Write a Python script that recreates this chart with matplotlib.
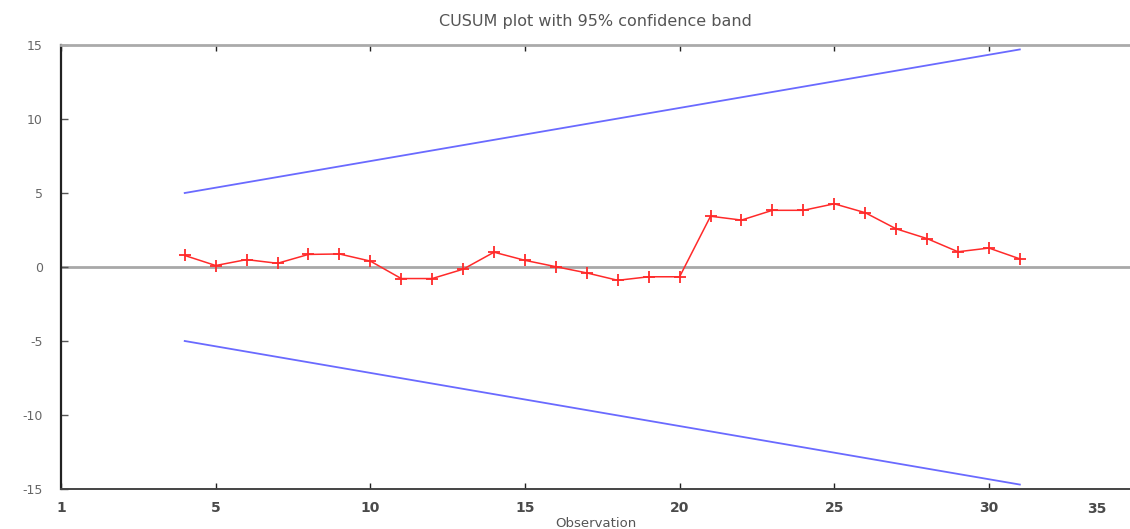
import matplotlib
matplotlib.use("Agg")
import matplotlib.pyplot as plt

plt.rcParams["axes.unicode_minus"] = False

# CUSUM values by observation
obs = list(range(4, 32))
cusum = [0.78, 0.10, 0.50, 0.25, 0.85, 0.88, 0.40, -0.78, -0.78, -0.15,
         1.00, 0.45, 0.02, -0.40, -0.90, -0.66, -0.66, 3.43, 3.17, 3.83,
         3.83, 4.27, 3.67, 2.58, 1.92, 1.03, 1.28, 0.55]

# 95% band end points
band_x = [4, 31]
band_upper = [5.0, 14.7]
band_lower = [-5.0, -14.7]

xticks = [0, 5, 10, 15, 20, 25, 30]
xticklabels = ["1", "5", "10", "15", "20", "25", "30"]
yticks = [-15, -10, -5, 0, 5, 10, 15]

W, H = 1130, 529
fig = plt.figure(figsize=(W / 100, H / 100), dpi=100)
# left edge at 61px, top at 45px, bottom at 489px, runs off the right side
ax = fig.add_axes([61 / W, 1 - 489 / H, (1130 - 61) / W, (489 - 45) / H])

ax.axhline(0, color="#a8a8a8", lw=2.0, zorder=1)
ax.plot(band_x, band_upper, color="#6a6aff", lw=1.3, zorder=2)
ax.plot(band_x, band_lower, color="#6a6aff", lw=1.3, zorder=2)
ax.plot(obs, cusum, color="#ff2a2a", lw=1.1, marker="+", ms=9, mew=1.3,
        zorder=3)

ax.set_xlim(0, (1130 - 61) / 30.93)
ax.set_ylim(-15, 15)

ax.set_xticks(xticks)
ax.set_xticklabels(xticklabels)
ax.set_yticks(yticks)
ax.tick_params(axis="y", direction="in", length=5, width=1, color="#555555",
               labelsize=9, labelcolor="#666666", pad=13)
ax.tick_params(axis="x", direction="in", length=4, width=1, color="#222222",
               labelsize=10, labelcolor="#4a4a4a", pad=9, top=True)
for lab in ax.get_xticklabels():
    lab.set_fontweight("bold")

# label for 35 sits just beyond the visible axis
ax.annotate("35", xy=(1, 0), xycoords="axes fraction", xytext=(-33, -13),
            textcoords="offset pixels", ha="center", va="top", fontsize=10,
            fontweight="bold", color="#4a4a4a")

ax.spines["left"].set_color("#222222")
ax.spines["left"].set_linewidth(1.6)
ax.spines["bottom"].set_color("#444444")
ax.spines["bottom"].set_linewidth(1.4)
ax.spines["top"].set_color("#aaaaaa")
ax.spines["top"].set_linewidth(2.0)
ax.spines["right"].set_visible(False)

ax.set_title("CUSUM plot with 95% confidence band", fontsize=11.5,
             color="#555555", pad=14)
ax.set_xlabel("Observation", fontsize=9.5, color="#555555", labelpad=1)

fig.savefig("out.png", dpi=100)
